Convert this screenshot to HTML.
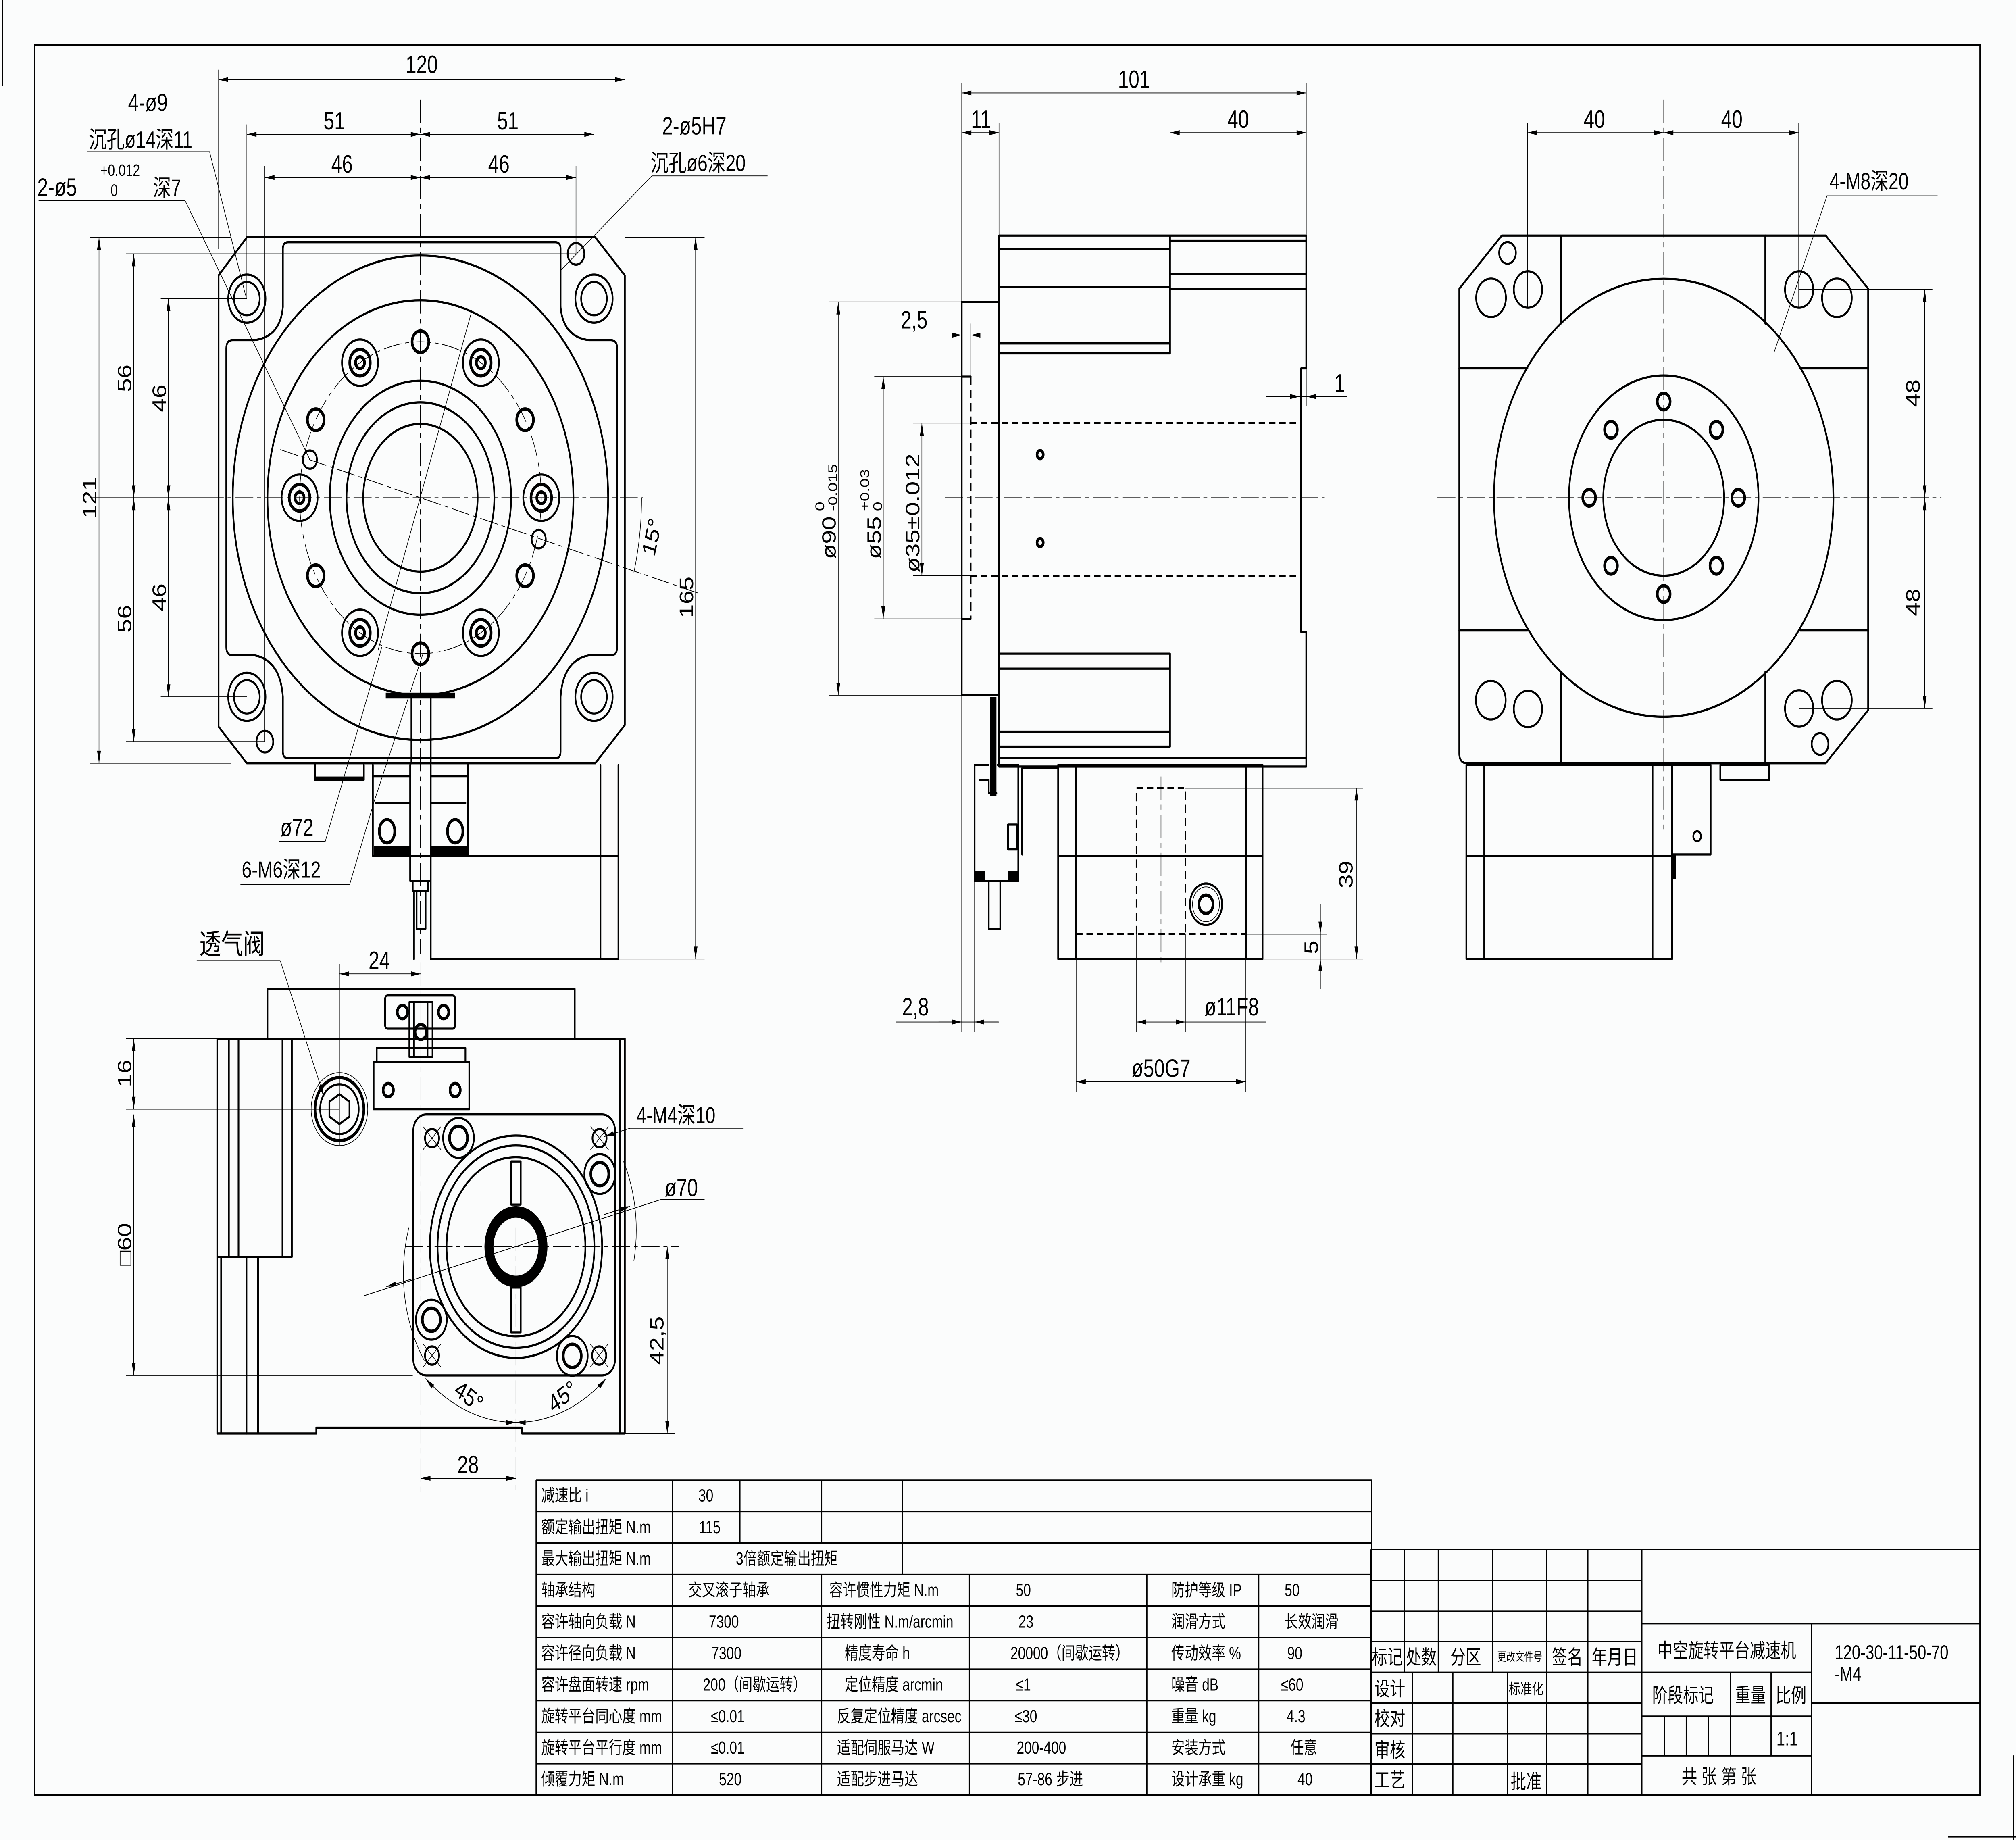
<!DOCTYPE html>
<html><head><meta charset="utf-8"><style>
html,body{margin:0;padding:0;background:#fbfcfc;overflow:hidden;width:100%;height:100%}
svg{display:block;width:100vw;height:100vh}
.k{fill:none;stroke:#000;stroke-width:1.3;stroke-linejoin:round;stroke-linecap:round}
.kk{fill:none;stroke:#000;stroke-width:2}
.t{fill:none;stroke:#000;stroke-width:0.45}
.c{fill:none;stroke:#000;stroke-width:0.45;stroke-dasharray:14 3 3 3}
.h{fill:none;stroke:#000;stroke-width:1.2;stroke-dasharray:5 3}
.tb{fill:none;stroke:#000;stroke-width:0.9}
.d{fill:none;stroke:#000;stroke-width:0.45;marker-start:url(#a);marker-end:url(#a)}
.e{fill:none;stroke:#000;stroke-width:0.45;marker-end:url(#a)}
text{font-family:"Liberation Sans","Noto Sans CJK SC",sans-serif;fill:#000}
.n{font-size:15px}
.cj{font-family:"Liberation Sans","Noto Sans CJK SC",sans-serif;font-size:14px}
.tt{font-family:"Liberation Sans","Noto Sans CJK SC",sans-serif;font-size:10.5px}
.ts{font-size:12px}
</style></head><body>
<svg viewBox="0 0 1568 1109" preserveAspectRatio="none" xmlns="http://www.w3.org/2000/svg">
<defs><marker id="a" viewBox="0 0 10 4" refX="10" refY="2" markerWidth="9" markerHeight="3" orient="auto-start-reverse" markerUnits="userSpaceOnUse"><path d="M0,0 L10,2 L0,4z" fill="#000"/></marker></defs>
<rect x="0" y="0" width="1568" height="1109" fill="#fbfcfc"/>
<!-- frame -->
<rect x="27" y="27" width="1513" height="1055" fill="none" stroke="#000" stroke-width="1"/>
<line x1="2" y1="0" x2="2" y2="52" class="tb"/>
<line x1="1566" y1="1058" x2="1566" y2="1109" class="tb"/>
<line x1="1515" y1="1107" x2="1568" y2="1107" class="tb"/>

<!-- ============ VIEW 1 (front) ============ -->
<path class="k" d="M192,143 H463 L486,166 V437 L463,460 H192 L170,438 V166 Z"/>
<path class="k" d="M220,185 V150 Q220,146 224,146 H432 Q436,146 436,150 V185"/>
<path class="k" d="M220,185 Q218,203 198,205 H181 Q176,205 176,210 V390 Q176,395 181,395 H198 Q218,398 220,420 V453 Q220,457 224,457 H432 Q436,457 436,453 V420 Q438,398 458,395 H475 Q480,395 480,390 V210 Q480,205 475,205 H458 Q438,203 436,185"/>
<g class="k">
<circle cx="327" cy="300" r="146"/><circle cx="327" cy="300" r="119"/>
<circle cx="327" cy="300" r="70.5"/><circle cx="327" cy="300" r="57.5"/><circle cx="327" cy="300" r="44.5"/>
</g>
<circle cx="327" cy="300" r="94" class="c"/>
<g class="k">
<circle cx="421" cy="300" r="14"/><circle cx="374" cy="381.4" r="14"/><circle cx="280" cy="381.4" r="14"/><circle cx="233" cy="300" r="14"/><circle cx="280" cy="218.6" r="14"/><circle cx="374" cy="218.6" r="14"/>
</g>
<g class="kk">
<circle cx="421" cy="300" r="8"/><circle cx="374" cy="381.4" r="8"/><circle cx="280" cy="381.4" r="8"/><circle cx="233" cy="300" r="8"/><circle cx="280" cy="218.6" r="8"/><circle cx="374" cy="218.6" r="8"/>
<circle cx="421" cy="300" r="3.5"/><circle cx="374" cy="381.4" r="3.5"/><circle cx="280" cy="381.4" r="3.5"/><circle cx="233" cy="300" r="3.5"/><circle cx="280" cy="218.6" r="3.5"/><circle cx="374" cy="218.6" r="3.5"/>
<circle cx="327" cy="206" r="6.5"/><circle cx="327" cy="394" r="6.5"/><circle cx="408.4" cy="253" r="6.5"/><circle cx="408.4" cy="347" r="6.5"/><circle cx="245.6" cy="253" r="6.5"/><circle cx="245.6" cy="347" r="6.5"/>
</g>
<g class="k">
<circle cx="241" cy="277" r="5.5"/><circle cx="419" cy="325" r="5.5"/>
<circle cx="192" cy="180" r="14.5"/><circle cx="192" cy="180" r="10"/>
<circle cx="462" cy="180" r="14.5"/><circle cx="462" cy="180" r="10"/>
<circle cx="192" cy="420" r="14.5"/><circle cx="192" cy="420" r="10"/>
<circle cx="462" cy="420" r="14.5"/><circle cx="462" cy="420" r="10"/>
<circle cx="206" cy="447" r="6.5"/><circle cx="448" cy="153" r="6.5"/>
</g>
<rect x="300" y="417.5" width="54" height="3.5" fill="#000"/>
<path class="k" d="M320,421 V460 M335,421 V460"/>
<!-- below view1 -->
<path class="k" d="M245,461 V470 H283 V461"/>
<rect x="245" y="468" width="38" height="3" fill="#000"/>
<path class="k" d="M290,461 V516 H364 V461 M290,468 H319 M335,468 H364"/>
<path class="k" d="M292,484 H319 M335,484 H362"/>
<rect x="291" y="510" width="28" height="6" fill="#000"/><rect x="335" y="510" width="29" height="6" fill="#000"/>
<ellipse cx="301" cy="501" rx="6" ry="7" class="kk"/><ellipse cx="354" cy="501" rx="6" ry="7" class="kk"/>
<path class="k" d="M319,461 V531 H335 V461 M321,531 V537 H333 V531 M324,537 V560 H331 V537 M322,537 V578 M335,516 V578 H481 V461 M364,516 H481 M467,461 V578"/>
<!-- center lines -->
<line x1="160" y1="300" x2="500" y2="300" class="c"/>
<line x1="327" y1="60" x2="327" y2="575" class="c"/>
<line x1="218" y1="271" x2="545" y2="358" class="c"/>
<line x1="366" y1="190" x2="294" y2="392" class="t"/>
<!-- dims view1 -->
<line x1="170" y1="48" x2="486" y2="48" class="d"/>
<line x1="192" y1="81" x2="327" y2="81" class="d"/><line x1="327" y1="81" x2="462" y2="81" class="d"/>
<line x1="206" y1="107" x2="327" y2="107" class="d"/><line x1="327" y1="107" x2="448" y2="107" class="d"/>
<path class="t" d="M170,42 V150 M486,42 V150 M192,75 V180 M462,75 V180 M206,100 V447 M448,100 V153"/>
<line x1="77" y1="143" x2="77" y2="460" class="d"/>
<line x1="104" y1="153" x2="104" y2="300" class="d"/><line x1="104" y1="300" x2="104" y2="447" class="d"/>
<line x1="131" y1="180" x2="131" y2="300" class="d"/><line x1="131" y1="300" x2="131" y2="420" class="d"/>
<path class="t" d="M70,143 H180 M70,460 H180 M98,153 H448 M98,447 H206 M125,180 H192 M125,420 H192 M70,300 H160"/>
<line x1="541" y1="143" x2="541" y2="578" class="d"/>
<path class="t" d="M486,143 H548 M481,578 H548"/>
<path class="t" d="M499,300 A172,172 0 0 1 493,345"/>
<text class="n" x="328" y="44" text-anchor="middle">120</text>
<text class="n" x="260" y="78" text-anchor="middle">51</text><text class="n" x="395" y="78" text-anchor="middle">51</text>
<text class="n" x="266" y="104" text-anchor="middle">46</text><text class="n" x="388" y="104" text-anchor="middle">46</text>
<text class="n" transform="translate(75,300) rotate(-90)" text-anchor="middle">121</text>
<text class="n" transform="translate(102,228) rotate(-90)" text-anchor="middle">56</text>
<text class="n" transform="translate(102,373) rotate(-90)" text-anchor="middle">56</text>
<text class="n" transform="translate(129,240) rotate(-90)" text-anchor="middle">46</text>
<text class="n" transform="translate(129,360) rotate(-90)" text-anchor="middle">46</text>
<text class="n" transform="translate(539,360) rotate(-90)" text-anchor="middle">165</text>
<text class="n" transform="translate(512,325) rotate(-75)" text-anchor="middle">15°</text>
<!-- leaders view1 -->
<text class="n" x="115" y="67" text-anchor="middle">4-ø9</text>
<text class="cj" x="69" y="89">沉孔ø14深11</text>
<path class="t" d="M68,91.5 H163 L191,178"/>
<text class="n" x="29" y="118">2-ø5</text>
<text x="78" y="106" style="font-size:10px">+0.012</text>
<text x="86" y="118" style="font-size:10px">0</text>
<text class="cj" x="119" y="118">深7</text>
<path class="t" d="M30,121 H144 L241,277"/>
<text class="n" x="515" y="81">2-ø5H7</text>
<text class="cj" x="506" y="103">沉孔ø6深20</text>
<path class="t" d="M597,106 H507 L436,163"/>
<text class="n" x="218" y="504">ø72</text>
<path class="t" d="M217,507 H253 L297,390"/>
<text class="cj" x="188" y="529">6-M6深12</text>
<path class="t" d="M187,533 H272 L291,483 L329,394"/>

<!-- ============ VIEW 2 (side) ============ -->
<rect x="748" y="182" width="29" height="237" class="k"/>
<path class="k" d="M777,142 H1016 V222 H1012 V381 H1016 V462 H777 Z"/>
<path class="k" d="M777,213 H910 V142 M777,150 H910 M777,173 H910 M777,207 H910 M910,145 H1016 M910,165 H1016 M910,174 H1016"/>
<path class="k" d="M777,394 H910 V450 M777,403 H910 M777,441 H910 M777,450 H910 M777,457 H1016"/>
<path class="h" d="M755,255 H1012 M755,347 H1012 M755,227 V373"/>
<path class="k" d="M748,227 H755 M748,373 H755"/>
<circle cx="809" cy="274" r="2.4" class="kk"/><circle cx="809" cy="327" r="2.4" class="kk"/>
<line x1="735" y1="300" x2="1030" y2="300" class="c"/>
<!-- bracket under flange -->
<rect x="770" y="420" width="5" height="60" fill="#000"/>
<path class="k" d="M758,461 V531 H792 V461 M758,461 H769 M776,461 H792 M762,470 H769 V478 H775 M784,497 H791 V512 H784 Z"/>
<rect x="758" y="525" width="8" height="6" fill="#000"/><rect x="784" y="525" width="8" height="6" fill="#000"/>
<path class="k" d="M769,531 V560 H778 V531 M795,515 V463 H822"/>
<!-- lower box -->
<rect x="823" y="461" width="159" height="117" class="k"/>
<path class="k" d="M837,461 V578 M969,461 V578 M823,516 H982"/>
<path class="h" d="M884,563 V475 H922 V563 M837,563 H969"/>
<line x1="903" y1="468" x2="903" y2="582" class="c"/>
<circle cx="938" cy="545" r="12.5" class="k"/><circle cx="938" cy="545" r="10.5" class="t"/><circle cx="938" cy="545" r="5.5" class="kk"/>
<!-- dims view2 -->
<line x1="748" y1="56" x2="1016" y2="56" class="d"/>
<line x1="748" y1="80" x2="777" y2="80" class="d"/>
<line x1="910" y1="80" x2="1016" y2="80" class="d"/>
<path class="t" d="M748,50 V182 M1016,50 V142 M777,74 V142 M910,74 V142"/>
<text class="n" x="882" y="53" text-anchor="middle">101</text>
<text class="n" x="763" y="77" text-anchor="middle">11</text>
<text class="n" x="963" y="77" text-anchor="middle">40</text>
<path class="t" d="M697,202 H777 M755,195 V227"/>
<line x1="730" y1="202" x2="748" y2="202" class="e"/><line x1="773" y1="202" x2="755" y2="202" class="e"/>
<text class="n" x="711" y="198" text-anchor="middle">2,5</text>
<path class="t" d="M985,239 H1048 M1016,222 V245"/>
<line x1="993" y1="239" x2="1011" y2="239" class="e"/><line x1="1034" y1="239" x2="1016" y2="239" class="e"/>
<text class="n" x="1042" y="236" text-anchor="middle">1</text>
<line x1="652" y1="182" x2="652" y2="419" class="d"/>
<line x1="687" y1="227" x2="687" y2="373" class="d"/>
<line x1="717" y1="255" x2="717" y2="347" class="d"/>
<path class="t" d="M645,182 H748 M645,419 H748 M680,227 H748 M680,373 H748 M710,255 H755 M710,347 H755"/>
<text class="n" transform="translate(650,337) rotate(-90)">ø90<tspan x="29" dy="-9" style="font-size:10px">0</tspan><tspan x="29" dy="10" style="font-size:10px">-0.015</tspan></text>
<text class="n" transform="translate(685,337) rotate(-90)">ø55<tspan x="29" dy="-9" style="font-size:10px">+0.03</tspan><tspan x="29" dy="10" style="font-size:10px">0</tspan></text>
<text class="n" transform="translate(715,345) rotate(-90)">ø35±0.012</text>
<line x1="1055" y1="475" x2="1055" y2="578" class="d"/>
<path class="t" d="M922,475 H1060 M982,578 H1060 M969,563 H1032 M1027,563 V578"/>
<line x1="1027" y1="545" x2="1027" y2="563" class="e"/><line x1="1027" y1="596" x2="1027" y2="578" class="e"/>
<text class="n" transform="translate(1052,527) rotate(-90)" text-anchor="middle">39</text>
<text class="n" transform="translate(1025,571) rotate(-90)" text-anchor="middle">5</text>
<path class="t" d="M697,616 H777 M748,419 V622 M758,531 V622"/>
<line x1="730" y1="616" x2="748" y2="616" class="e"/><line x1="776" y1="616" x2="758" y2="616" class="e"/>
<text class="n" x="712" y="612" text-anchor="middle">2,8</text>
<line x1="884" y1="616" x2="922" y2="616" class="d"/>
<path class="t" d="M922,616 H985 M884,563 V622 M922,563 V622"/>
<text class="n" x="958" y="612" text-anchor="middle">ø11F8</text>
<line x1="837" y1="652" x2="969" y2="652" class="d"/>
<path class="t" d="M837,578 V658 M969,578 V658"/>
<text class="n" x="903" y="649" text-anchor="middle">ø50G7</text>

<!-- ============ VIEW 3 (right) ============ -->
<path class="k" d="M1168,142 H1420 L1453,174 V428 L1420,460 H1141 Q1135,460 1135,454 V174 Z"/>
<path class="k" d="M1214,142 V195 M1214,405 V460 M1373,142 V195 M1373,405 V460 M1135,222 H1188 M1400,222 H1453 M1135,380 H1188 M1400,380 H1453"/>
<circle cx="1294" cy="300" r="132" class="k"/>
<circle cx="1294" cy="300" r="73.7" class="k"/>
<circle cx="1294" cy="300" r="47" class="k"/>
<g class="kk">
<circle cx="1294" cy="242" r="5"/><circle cx="1294" cy="358" r="5"/><circle cx="1236" cy="300" r="5"/><circle cx="1352" cy="300" r="5"/>
<circle cx="1335" cy="259" r="5"/><circle cx="1253" cy="259" r="5"/><circle cx="1335" cy="341" r="5"/><circle cx="1253" cy="341" r="5"/>
</g>
<g class="k">
<circle cx="1159.7" cy="179.5" r="11.6"/><circle cx="1172.5" cy="152.4" r="6.5"/><circle cx="1188.4" cy="174.5" r="11"/>
<circle cx="1399.3" cy="174.5" r="11"/><circle cx="1428.7" cy="179.5" r="11.6"/>
<circle cx="1159.5" cy="422" r="11.6"/><circle cx="1188.4" cy="427.3" r="11"/>
<circle cx="1399.3" cy="427" r="11"/><circle cx="1428.7" cy="422" r="11.6"/><circle cx="1415.6" cy="448.4" r="6.5"/>
</g>
<rect x="1140.5" y="461" width="160" height="117" class="k"/>
<path class="k" d="M1154.4,461 V578 M1285.3,461 V578 M1140.5,516 H1300.5"/>
<rect x="1300.5" y="461" width="30" height="54" class="k"/>
<circle cx="1320" cy="504" r="3" class="k"/>
<rect x="1338" y="461" width="38" height="9" class="k"/>
<rect x="1300" y="515" width="3.5" height="15" fill="#000"/>
<line x1="1118" y1="300" x2="1510" y2="300" class="c"/>
<line x1="1294" y1="60" x2="1294" y2="500" class="c"/>
<line x1="1188" y1="80" x2="1294" y2="80" class="d"/><line x1="1294" y1="80" x2="1399" y2="80" class="d"/>
<path class="t" d="M1188,74 V185 M1399,74 V185"/>
<text class="n" x="1240" y="77" text-anchor="middle">40</text><text class="n" x="1347" y="77" text-anchor="middle">40</text>
<text class="cj" x="1423" y="114">4-M8深20</text>
<path class="t" d="M1507,118 H1421 L1380,212"/>
<line x1="1497" y1="174.5" x2="1497" y2="300" class="d"/><line x1="1497" y1="300" x2="1497" y2="427" class="d"/>
<path class="t" d="M1399,174.5 H1503 M1399,427 H1503"/>
<text class="n" transform="translate(1493,237) rotate(-90)" text-anchor="middle">48</text>
<text class="n" transform="translate(1493,363) rotate(-90)" text-anchor="middle">48</text>

<!-- ============ VIEW 4 (bottom-left) ============ -->
<rect x="208" y="596" width="239" height="30" class="k"/>
<path class="k" d="M169,626 H486 V864 H406 V860.5 H246 V864 H169 Z"/>
<path class="k" d="M178,626 V757.5 M185.5,626 V757.5 M219.7,626 V757.5 M227,626 V757.5 M169,757.5 H227 M172,757.5 V864 M191.7,757.5 V864 M200.7,757.5 V864 M482,626 V864"/>
<circle cx="264" cy="668.5" r="22" class="t"/><circle cx="264" cy="668.5" r="19" class="kk"/><circle cx="264" cy="668.5" r="15" class="k"/>
<polygon points="264,659.5 271.8,664 271.8,673 264,677.5 256.2,673 256.2,664" class="k"/>
<rect x="299.5" y="600" width="54.5" height="20" rx="2" class="k"/>
<circle cx="313" cy="610" r="4" class="kk"/><circle cx="345" cy="610" r="4" class="kk"/>
<rect x="318.4" y="604" width="18" height="33" class="k"/>
<path class="k" d="M322,604 V637 M332.5,604 V637"/>
<circle cx="327.3" cy="622" r="4.5" class="kk"/>
<rect x="293" y="631.6" width="69" height="8.4" class="k"/>
<rect x="290.6" y="640" width="74.4" height="28.5" class="k"/>
<circle cx="302" cy="657" r="4" class="kk"/><circle cx="354" cy="657" r="4" class="kk"/>
<rect x="321.4" y="671.7" width="157" height="157.3" rx="10" class="k"/>
<g class="k"><circle cx="401.3" cy="751.4" r="67"/><circle cx="401.3" cy="751.4" r="61"/><circle cx="401.3" cy="751.4" r="54"/></g>
<circle cx="401.3" cy="751.4" r="21" fill="none" stroke="#000" stroke-width="7"/>
<rect x="397.5" y="700" width="7.5" height="26" class="k"/><rect x="397.5" y="776" width="7.5" height="27" class="k"/>
<g class="k"><circle cx="356.6" cy="685.8" r="12"/><circle cx="466.5" cy="707.6" r="12"/><circle cx="335.5" cy="795.4" r="12"/><circle cx="445.1" cy="817.2" r="12"/></g>
<g class="kk"><circle cx="356.6" cy="685.8" r="7"/><circle cx="466.5" cy="707.6" r="7"/><circle cx="335.5" cy="795.4" r="7"/><circle cx="445.1" cy="817.2" r="7"/></g>
<g class="k"><circle cx="336" cy="686" r="5.5"/><circle cx="466.3" cy="686" r="5.5"/><circle cx="336" cy="817" r="5.5"/><circle cx="466" cy="817" r="5.5"/></g>
<path class="t" d="M329,679 L343,693 M343,679 L329,693 M459.3,679 L473.3,693 M473.3,679 L459.3,693 M329,810 L343,824 M343,810 L329,824 M459,810 L473,824 M473,810 L459,824"/>
<line x1="315" y1="751.4" x2="528" y2="751.4" class="c"/>
<line x1="401.3" y1="740" x2="401.3" y2="900" class="c"/>
<line x1="327.3" y1="580" x2="327.3" y2="900" class="c"/>
<line x1="264" y1="587" x2="327.3" y2="587" class="d"/>
<path class="t" d="M264,581 V690"/>
<text class="n" x="295" y="584" text-anchor="middle">24</text>
<line x1="104" y1="626" x2="104" y2="668.5" class="d"/>
<line x1="104" y1="671.7" x2="104" y2="829" class="d"/>
<path class="t" d="M98,626 H169 M98,668.5 H264 M98,829 H321"/>
<text class="n" transform="translate(102,647) rotate(-90)" text-anchor="middle">16</text>
<text class="n" transform="translate(102,750) rotate(-90)" text-anchor="middle">□60</text>
<line x1="519" y1="751.4" x2="519" y2="864" class="d"/>
<path class="t" d="M486,864 H525"/>
<text class="n" transform="translate(516,808) rotate(-90)" text-anchor="middle">42,5</text>
<line x1="327.3" y1="891" x2="401.3" y2="891" class="d"/>
<text class="n" x="364" y="888" text-anchor="middle">28</text>
<path class="d" d="M331,830.8 A106,106 0 0 0 401.3,857.4"/>
<path class="d" d="M401.3,857.4 A106,106 0 0 0 471.5,830.8"/>
<text class="n" transform="translate(362,846) rotate(32)" text-anchor="middle">45°</text>
<text class="n" transform="translate(440,846) rotate(-32)" text-anchor="middle">45°</text>
<path class="t" d="M283,781 L514,723 H548"/>
<line x1="320" y1="771" x2="300.5" y2="775.5" class="e"/>
<line x1="470" y1="732" x2="490" y2="727" class="e"/>
<path class="t" d="M485,700 A92,92 0 0 1 493,760 M318,740 A92,92 0 0 0 330,820"/>
<text class="n" x="517" y="721">ø70</text>
<text class="cj" x="495" y="677">4-M4深10</text>
<path class="t" d="M578,680 H490"/>
<line x1="490" y1="680" x2="470" y2="685" class="e"/>
<text class="cj" x="155" y="575" style="font-size:17px">透气阀</text>
<path class="t" d="M153,579 H218"/>
<line x1="218" y1="579" x2="252" y2="661" class="e"/>

<!-- ============ TABLE ============ -->
<g class="tb">
<path d="M417,892 H1067 M417,911 H1067 M417,930 H1067 M417,949 H1067 M417,968 H1067 M417,987 H1067 M417,1006 H1067 M417,1025 H1067 M417,1044 H1067 M417,1063 H1067 M417,1082 H1067"/>
<path d="M417,892 V1082 M523,892 V1082 M575.5,892 V930 M639,892 V930 M702,892 V949 M639,949 V1082 M754,949 V1082 M892,949 V1082 M979,949 V1082 M1067,892 V1082"/>
</g>
<g class="tt">
<text x="421" y="905">减速比 i</text><text x="549" y="905" text-anchor="middle">30</text>
<text x="421" y="924">额定输出扭矩 N.m</text><text x="552" y="924" text-anchor="middle">115</text>
<text x="421" y="943">最大输出扭矩 N.m</text><text x="612" y="943" text-anchor="middle">3倍额定输出扭矩</text>
<text x="421" y="962">轴承结构</text><text x="567" y="962" text-anchor="middle">交叉滚子轴承</text><text x="645" y="962">容许惯性力矩 N.m</text><text x="796" y="962" text-anchor="middle">50</text><text x="911" y="962">防护等级 IP</text><text x="1005" y="962" text-anchor="middle">50</text>
<text x="421" y="981">容许轴向负载 N</text><text x="563" y="981" text-anchor="middle">7300</text><text x="643" y="981">扭转刚性 N.m/arcmin</text><text x="798" y="981" text-anchor="middle">23</text><text x="911" y="981">润滑方式</text><text x="1020" y="981" text-anchor="middle">长效润滑</text>
<text x="421" y="1000">容许径向负载 N</text><text x="565" y="1000" text-anchor="middle">7300</text><text x="657" y="1000">精度寿命 h</text><text x="832" y="1000" text-anchor="middle">20000（间歇运转）</text><text x="911" y="1000">传动效率 %</text><text x="1007" y="1000" text-anchor="middle">90</text>
<text x="421" y="1019">容许盘面转速 rpm</text><text x="587" y="1019" text-anchor="middle">200（间歇运转）</text><text x="657" y="1019">定位精度 arcmin</text><text x="796" y="1019" text-anchor="middle">≤1</text><text x="911" y="1019">噪音 dB</text><text x="1005" y="1019" text-anchor="middle">≤60</text>
<text x="421" y="1038">旋转平台同心度 mm</text><text x="566" y="1038" text-anchor="middle">≤0.01</text><text x="651" y="1038">反复定位精度 arcsec</text><text x="798" y="1038" text-anchor="middle">≤30</text><text x="911" y="1038">重量 kg</text><text x="1008" y="1038" text-anchor="middle">4.3</text>
<text x="421" y="1057">旋转平台平行度 mm</text><text x="566" y="1057" text-anchor="middle">≤0.01</text><text x="651" y="1057">适配伺服马达 W</text><text x="810" y="1057" text-anchor="middle">200-400</text><text x="911" y="1057">安装方式</text><text x="1014" y="1057" text-anchor="middle">任意</text>
<text x="421" y="1076">倾覆力矩 N.m</text><text x="568" y="1076" text-anchor="middle">520</text><text x="651" y="1076">适配步进马达</text><text x="817" y="1076" text-anchor="middle">57-86 步进</text><text x="911" y="1076">设计承重 kg</text><text x="1015" y="1076" text-anchor="middle">40</text>
</g>

<!-- ============ TITLE BLOCK ============ -->
<g class="tb">
<path d="M1066,934 H1540 M1066,952.5 H1277 M1066,971 H1277 M1066,989.4 H1277 M1066,1008 H1277 M1066,1026.5 H1277 M1066,1045 H1277 M1066,1063.2 H1277"/>
<path d="M1066,934 V1082 M1092.3,934 V1008 M1118.7,934 V1008 M1161,934 V1008 M1203,934 V1082 M1235,934 V1082 M1277,934 V1082 M1098.5,1008 V1082 M1130,1008 V1082 M1172.5,1008 V1082"/>
<path d="M1277,978.6 H1540 M1409,978.6 V1082 M1277,1008 H1409 M1409,1026.5 H1540 M1277,1034.4 H1409 M1277,1058.2 H1409 M1345.8,1008 V1058.2 M1377.5,1008 V1058.2 M1294.5,1034.4 V1058.2 M1311.6,1034.4 V1058.2 M1328.8,1034.4 V1058.2 M1540,934 V1082"/>
</g>
<g class="ts">
<text x="1079" y="1003" text-anchor="middle">标记</text><text x="1105.5" y="1003" text-anchor="middle">处数</text><text x="1140" y="1003" text-anchor="middle">分区</text>
<text x="1182" y="1001" text-anchor="middle" style="font-size:7px">更改文件号</text><text x="1219" y="1003" text-anchor="middle">签名</text><text x="1256" y="1003" text-anchor="middle">年月日</text>
<text x="1069" y="1022">设计</text><text x="1187" y="1021" text-anchor="middle" style="font-size:9px">标准化</text>
<text x="1069" y="1040">校对</text><text x="1069" y="1059">审核</text><text x="1069" y="1077">工艺</text><text x="1187" y="1078" text-anchor="middle">批准</text>
<text x="1343" y="999" text-anchor="middle">中空旋转平台减速机</text>
<text x="1427" y="1000">120-30-11-50-70</text><text x="1427" y="1013">-M4</text>
<text x="1309" y="1026" text-anchor="middle">阶段标记</text><text x="1361.5" y="1026" text-anchor="middle">重量</text><text x="1393" y="1026" text-anchor="middle">比例</text>
<text x="1390" y="1052" text-anchor="middle">1:1</text>
<text x="1337" y="1075" text-anchor="middle">共 张 第 张</text>
</g>
</svg>
</body></html>
